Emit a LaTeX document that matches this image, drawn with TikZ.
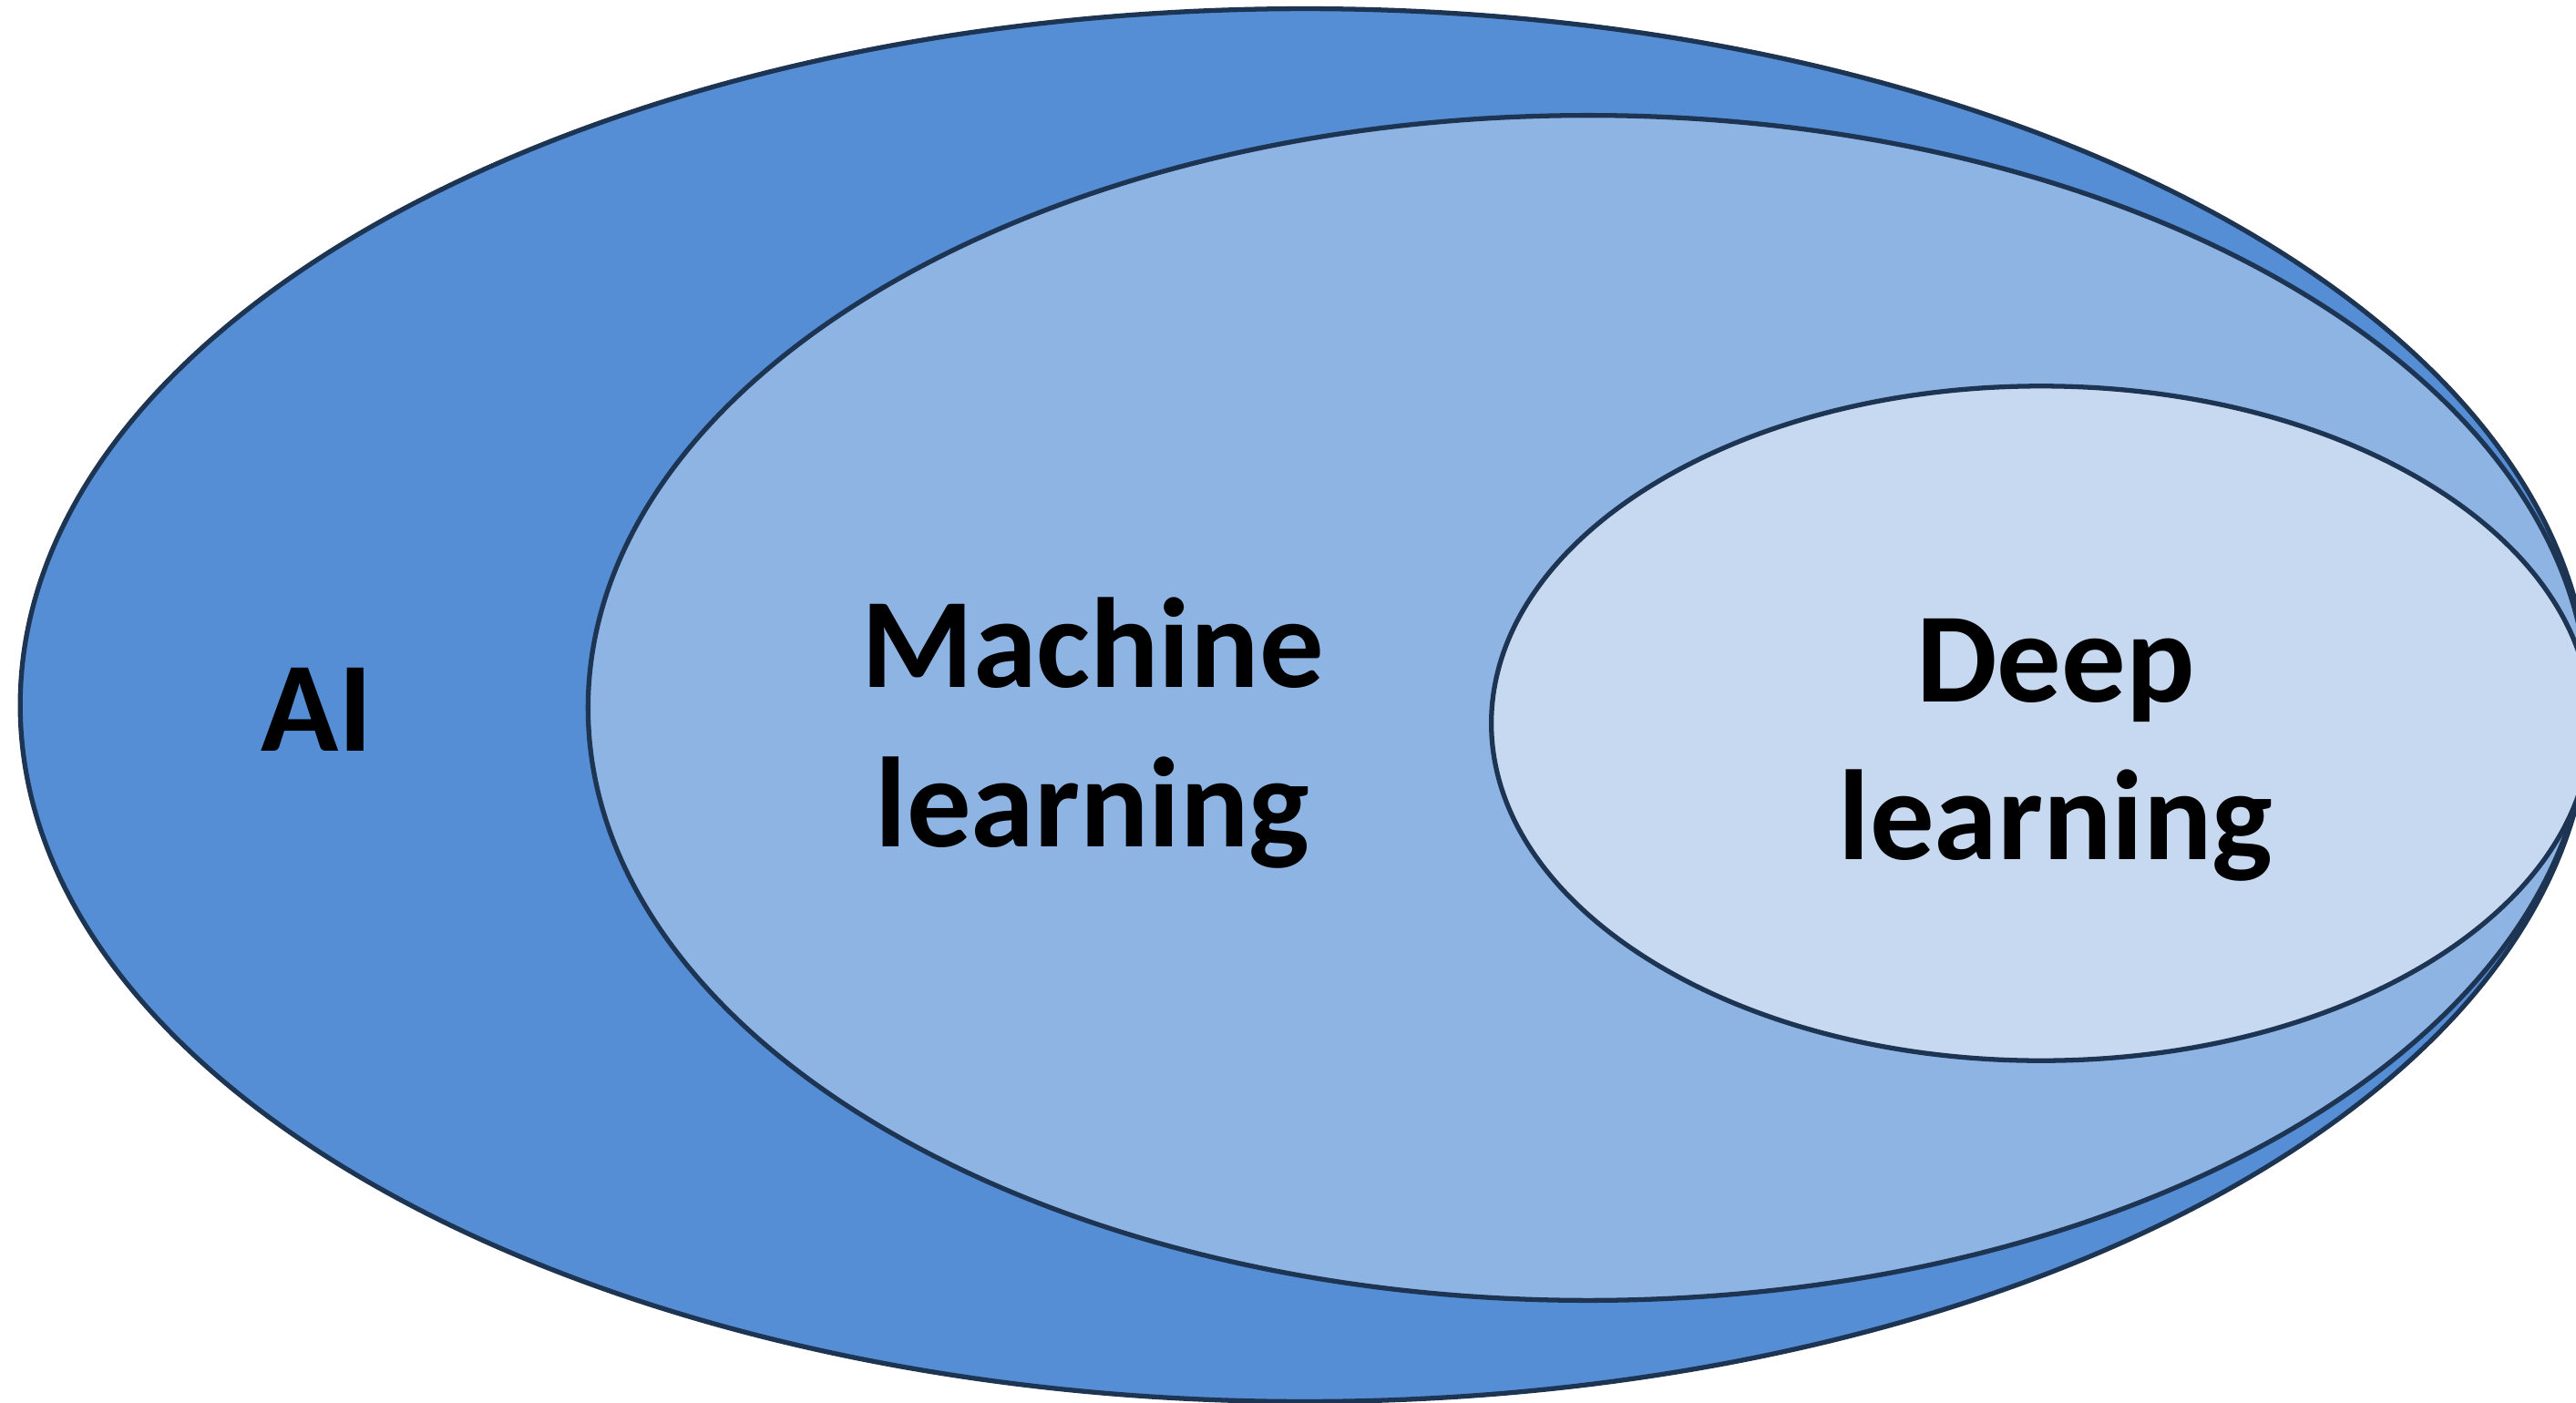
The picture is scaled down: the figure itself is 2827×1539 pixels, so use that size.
\documentclass[tikz,border=0pt]{standalone}
\usepackage{fontspec}
\setmainfont{Carlito}
\definecolor{aiblue}{HTML}{558ED5}
\definecolor{mlblue}{HTML}{8EB4E3}
\definecolor{dlblue}{HTML}{C6D9F1}
\definecolor{edge}{HTML}{1D3553}
\tikzset{
  setshape/.style={draw=edge, line width=1.5pt},
  lbl/.style={anchor=base, inner sep=0pt, text=black,
    font=\fontsize{40}{49}\selectfont\bfseries}
}
\begin{document}
\begin{tikzpicture}[x=0.01cm, y=-0.01cm]
\useasboundingbox (0,0) rectangle (2827,1539);
\clip (0,0) rectangle (2827,1539);
\fill[white] (0,0) rectangle (2827,1539);
% outer: AI
\draw[setshape, fill=aiblue] (1432,774) ellipse [x radius=14.09cm, y radius=7.64cm];
% middle: Machine learning
\draw[setshape, fill=mlblue] (1743,777) ellipse [x radius=10.97cm, y radius=6.50cm];
% inner: Deep learning
\draw[setshape, fill=dlblue] (2240,794) ellipse [x radius=6.03cm, y radius=3.70cm];
% labels
\node[lbl] (ai) at (348,824) {AI};
\node[lbl] (ml1) at (1199,754) {Machine};
\node[lbl] (ml2) at (1199,929) {learning};
\node[lbl] (dl1) at (2256,770) {Deep};
\node[lbl] (dl2) at (2256,943) {learning};
\end{tikzpicture}
\end{document}
